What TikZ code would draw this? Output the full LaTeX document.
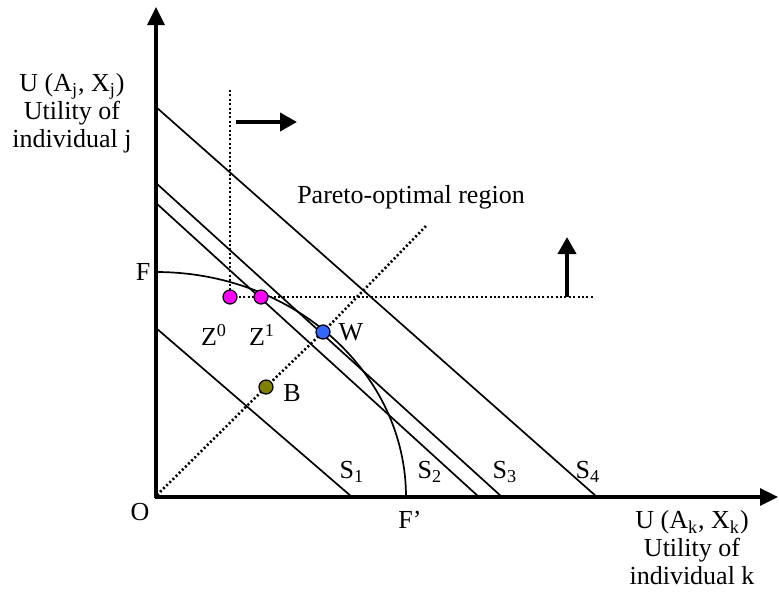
\documentclass[tikz,border=0pt]{standalone}
\usepackage{fontspec}
\setmainfont{Liberation Serif}
\usetikzlibrary{arrows.meta}
\definecolor{zpink}{RGB}{255,0,255}
\definecolor{wblue}{RGB}{51,102,255}
\definecolor{bolive}{RGB}{128,128,0}
\tikzset{
  axis/.style={line width=1.6pt,-{Triangle[length=9pt,width=8.5pt]}},
  sline/.style={line width=0.85pt},
  dotline/.style={line width=1.3pt,dash pattern=on 1pt off 1.2pt},
  movearrow/.style={line width=2pt,-{Triangle[length=8.5pt,width=9pt]}},
  pt/.style={circle,draw=black,line width=0.6pt,inner sep=0pt,minimum size=7pt},
  lbl/.style={font=\fontsize{13}{14}\selectfont,inner sep=0pt},
}
\begin{document}
\begin{tikzpicture}[x=0.5pt,y=0.5pt]
\useasboundingbox (0,0) rectangle (779,591);
% axes
\coordinate (O) at (156,94);
\coordinate (ytop) at (156,584);
\coordinate (xend) at (778,94);
\draw[axis] (156,93) -- (ytop);
\draw[axis] (154.5,94) -- (xend);
% S lines
\coordinate (s4a) at (156,484); \coordinate (s4b) at (597,94);
\coordinate (s3a) at (156,408); \coordinate (s3b) at (502,94);
\coordinate (s2a) at (156,388); \coordinate (s2b) at (479,94);
\coordinate (s1a) at (156,263); \coordinate (s1b) at (352,94);
\draw[sline] (s4a) -- (s4b);
\draw[sline] (s3a) -- (s3b);
\draw[sline] (s2a) -- (s2b);
\draw[sline] (s1a) -- (s1b);
% frontier
\coordinate (Fp) at (156,319);
\draw[sline] (Fp) arc[start angle=90,end angle=0,x radius=250,y radius=225];
% dotted lines
\coordinate (vtop) at (230,501);
\coordinate (hend) at (595,294);
\coordinate (dstart) at (157,96);
\coordinate (dend) at (426,365);
\coordinate (Z0) at (230,294);
\coordinate (Z1) at (261,294);
\coordinate (W) at (323,259);
\coordinate (B) at (266,204);
\draw[dotline] (vtop) -- (Z0);
\draw[dotline] (Z0) -- (Z1) -- (hend);
\draw[dotline] (dstart) -- (B) -- (W) -- (dend);
\node[pt,fill=zpink] (Z0n) at (Z0) {};
\node[pt,fill=zpink] (Z1n) at (Z1) {};
\node[pt,fill=wblue] (Wn) at (W) {};
\node[pt,fill=bolive] (Bn) at (B) {};
% movement arrows
\coordinate (ra) at (236,469); \coordinate (rb) at (297,469);
\coordinate (ua) at (567,294); \coordinate (ub) at (567,354);
\draw[movearrow] (ra) -- (rb);
\draw[movearrow] (ua) -- (ub);
% labels
\node[lbl,align=center] (ylab) at (72,478) {U (A\textsubscript{j}, X\textsubscript{j})\\Utility of\\individual j};
\node[lbl,align=center] (xlab) at (692,43) {U (A\textsubscript{k}, X\textsubscript{k})\\Utility of\\individual k};
\node[lbl] (par) at (411,394) {Pareto-optimal region};
\node[lbl] (Flab) at (143,319) {F};
\node[lbl] (Fplab) at (410,71) {F’};
\node[lbl] (Olab) at (140,79) {O};
\node[lbl] (Z0lab) at (214,256) {Z\textsuperscript{0}};
\node[lbl] (Z1lab) at (262,256) {Z\textsuperscript{1}};
\node[lbl] (Wlab) at (351,259) {W};
\node[lbl] (Blab) at (292,198) {B};
\node[lbl] (S1lab) at (352,119) {S\textsubscript{1}};
\node[lbl] (S2lab) at (430,119) {S\textsubscript{2}};
\node[lbl] (S3lab) at (505,119) {S\textsubscript{3}};
\node[lbl] (S4lab) at (588,119) {S\textsubscript{4}};
\end{tikzpicture}
\end{document}
